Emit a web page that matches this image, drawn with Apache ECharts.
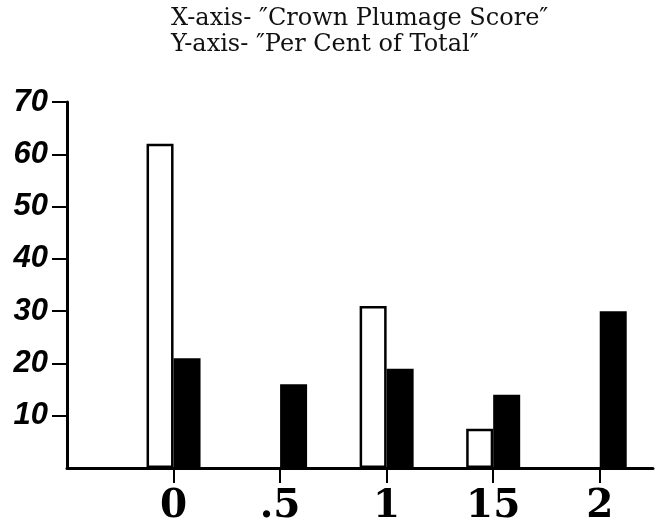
<!DOCTYPE html>
<html><head><meta charset="utf-8">
<script src="https://cdn.jsdelivr.net/npm/echarts@6/dist/echarts.min.js"></script>
<style>html,body{margin:0;padding:0;background:#fff}#c{width:658px;height:526px}</style>
</head><body><div id="c"></div>
<script>
const titleLines = ["X-axis- \u2033Crown Plumage Score\u2033", "Y-axis- \u2033Per Cent of Total\u2033"];
const scores = [0, 0.5, 1, 1.5, 2];
const xTickLabels = ["0", ".5", "1", "15", "2"];
const whiteValues = [62, null, 31, 7.5, null];
const blackValues = [21, 16, 19, 14, 30];
const yTicks = [10, 20, 30, 40, 50, 60, 70];

const chart = echarts.init(document.getElementById('c'), null, {renderer: 'canvas'});
chart.setOption({
  animation: false,
  backgroundColor: '#fff',
  graphic: titleLines.map((t, i) => ({
    type: 'text', left: 171, top: 7 + i * 26,
    style: {text: t, font: '24px "DejaVu Serif", serif', fill: '#111'}
  })),
  grid: {left: 67, right: 5, top: 102, bottom: 57},
  xAxis: {
    type: 'value', min: -0.5, max: 2.25,
    splitLine: {show: false},
    axisLine: {show: true, onZero: false, lineStyle: {color: '#000', width: 3}},
    axisTick: {show: true, length: 15, customValues: scores, lineStyle: {color: '#000', width: 2}},
    axisLabel: {
      customValues: scores, margin: 19,
      formatter: v => xTickLabels[scores.indexOf(v)] || '',
      fontFamily: '"DejaVu Serif", serif', fontWeight: 'bold', fontSize: 39, color: '#000'
    }
  },
  yAxis: {
    type: 'value', min: 0, max: 70, interval: 10,
    splitLine: {show: false},
    axisLine: {show: true, onZero: false, lineStyle: {color: '#000', width: 3}},
    axisTick: {show: true, length: 15, customValues: yTicks, lineStyle: {color: '#000', width: 2}},
    axisLabel: {
      customValues: yTicks, margin: 19,
      fontFamily: '"Liberation Sans", sans-serif', fontStyle: 'italic', fontWeight: 'bold', fontSize: 31, color: '#000'
    }
  },
  series: [
    {type: 'bar', barWidth: 27, barGap: '0%',
     data: scores.map((s, i) => [s, whiteValues[i]]),
     itemStyle: {color: '#fff', borderColor: '#000', borderWidth: 2.5}},
    {type: 'bar', barWidth: 27, barGap: '0%',
     data: scores.map((s, i) => [s, blackValues[i]]),
     itemStyle: {color: '#000'}}
  ]
});
</script></body></html>
